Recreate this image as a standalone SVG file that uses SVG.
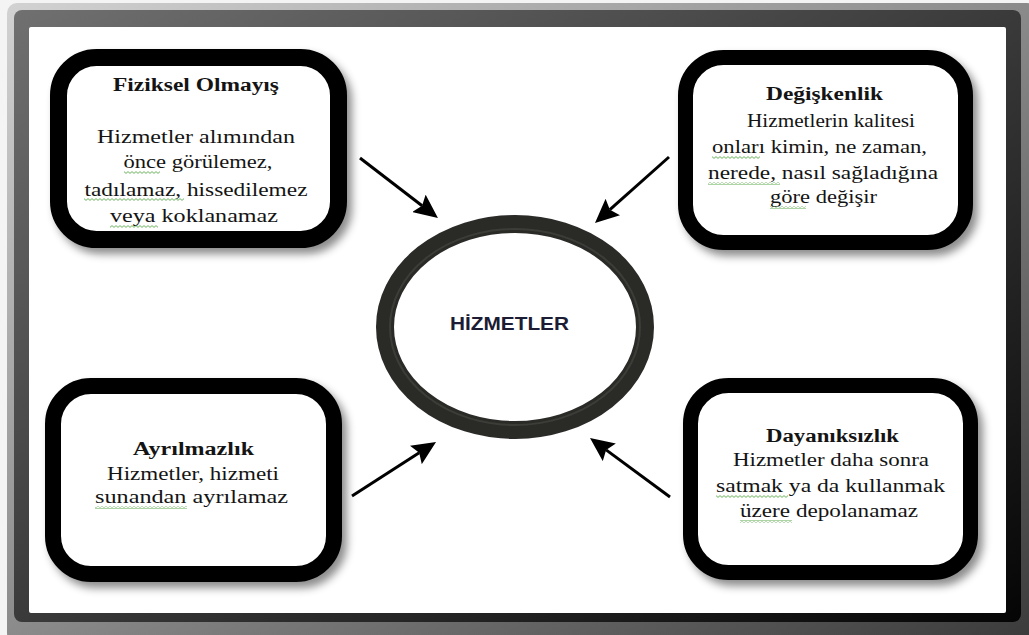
<svg xmlns="http://www.w3.org/2000/svg" width="1029" height="635" viewBox="0 0 1029 635">
  <defs>
    <linearGradient id="frameOuter" x1="0" y1="0" x2="1" y2="1">
      <stop offset="0" stop-color="#d2d2d2"/>
      <stop offset="0.5" stop-color="#8a8a8a"/>
      <stop offset="1" stop-color="#3a3a3a"/>
    </linearGradient>
    <linearGradient id="frameInner" x1="0" y1="0" x2="1" y2="1">
      <stop offset="0" stop-color="#707070"/>
      <stop offset="0.5" stop-color="#3a3a3a"/>
      <stop offset="1" stop-color="#050505"/>
    </linearGradient>
    <filter id="boxShadow" x="-10%" y="-10%" width="130%" height="130%">
      <feDropShadow dx="5" dy="6" stdDeviation="4" flood-color="#000" flood-opacity="0.45"/>
    </filter>
    <filter id="soft" x="-5%" y="-5%" width="110%" height="110%">
      <feGaussianBlur stdDeviation="0.7"/>
    </filter>
    <marker id="head" viewBox="0 0 24 22" refX="4" refY="11" markerWidth="24" markerHeight="22" markerUnits="userSpaceOnUse" orient="auto">
      <path d="M0,0 L24,11 L0,22 L4,11 z" fill="#000"/>
    </marker>
    <pattern id="squiggle" patternUnits="userSpaceOnUse" width="4" height="3">
      <path d="M0,0.6 L2,2.4 L4,0.6" fill="none" stroke="#5aaa4a" stroke-width="0.9"/>
    </pattern>
    <style>
      .box { fill: #ffffff; stroke: #000; filter: url(#boxShadow); }
      .title { font-family: "Liberation Serif", "Times New Roman", serif; font-size: 18px; font-weight: bold; fill: #141414; }
      .body { font-family: "Liberation Serif", "Times New Roman", serif; font-size: 18px; fill: #141414; }
      .conn { stroke: #000; stroke-width: 3; fill: none; marker-end: url(#head); }
      .spell { fill: url(#squiggle); }
      .center-label { font-family: "Liberation Sans", Arial, sans-serif; font-size: 19px; font-weight: bold; fill: #1c1c34; }
    </style>
  </defs>

  <!-- picture frame -->
  <rect x="0" y="0" width="1029" height="635" fill="#f4f4f4"/>
  <rect x="7" y="3" width="1030" height="640" rx="10" fill="url(#frameOuter)"/>
  <rect x="14" y="10" width="1007" height="612" rx="8" fill="url(#frameInner)"/>
  <rect x="29" y="27" width="977" height="586" rx="2" fill="#ffffff"/>

  <!-- connectors -->
  <g id="connectors">
    <line class="conn" x1="360" y1="158" x2="422.1" y2="205.8"/>
    <line class="conn" x1="669" y1="157" x2="609.9" y2="209.7"/>
    <line class="conn" x1="352" y1="496" x2="419.2" y2="452.8"/>
    <line class="conn" x1="670" y1="497" x2="606.1" y2="449.9"/>
  </g>

  <!-- central node: dark ring -->
  <g id="hizmetler">
    <g filter="url(#soft)">
      <ellipse cx="515" cy="327" rx="130" ry="103" fill="#ffffff" stroke="#2a2a28" stroke-width="18"/>
      <ellipse cx="515" cy="327" rx="125" ry="98" fill="none" stroke="#3c3c39" stroke-width="2"/>
    </g>
    <text class="center-label" x="509.5" y="330" text-anchor="middle" textLength="119" lengthAdjust="spacingAndGlyphs">HİZMETLER</text>
  </g>

  <!-- top-left node -->
  <g id="fiziksel-olmayis">
    <rect class="box" x="58.5" y="57.5" width="280" height="182" rx="38" stroke-width="17"/>
    <text class="title" x="196" y="91" text-anchor="middle" textLength="166" lengthAdjust="spacingAndGlyphs">Fiziksel Olmayış</text>
    <text class="body" x="196" y="143" text-anchor="middle" textLength="198" lengthAdjust="spacingAndGlyphs">Hizmetler alımından</text>
    <text class="body" x="198" y="168" text-anchor="middle" textLength="149" lengthAdjust="spacingAndGlyphs">önce görülemez,</text>
    <text class="body" x="196" y="196" text-anchor="middle" textLength="223" lengthAdjust="spacingAndGlyphs">tadılamaz, hissedilemez</text>
    <text class="body" x="194" y="222" text-anchor="middle" textLength="168" lengthAdjust="spacingAndGlyphs">veya koklanamaz</text>
    <rect class="spell" x="124" y="171" width="36" height="3"/>
    <rect class="spell" x="84" y="198" width="100" height="3"/>
    <rect class="spell" x="110" y="225" width="48" height="3"/>
  </g>

  <!-- top-right node -->
  <g id="degiskenlik">
    <rect class="box" x="685.5" y="57.5" width="280" height="185" rx="38" stroke-width="15"/>
    <text class="title" x="824.5" y="100" text-anchor="middle" textLength="117" lengthAdjust="spacingAndGlyphs">Değişkenlik</text>
    <text class="body" x="831" y="127" text-anchor="middle" textLength="168" lengthAdjust="spacingAndGlyphs">Hizmetlerin kalitesi</text>
    <text class="body" x="819.5" y="153" text-anchor="middle" textLength="215" lengthAdjust="spacingAndGlyphs">onları kimin, ne zaman,</text>
    <text class="body" x="823" y="179" text-anchor="middle" textLength="230" lengthAdjust="spacingAndGlyphs">nerede, nasıl sağladığına</text>
    <text class="body" x="823.5" y="203" text-anchor="middle" textLength="107" lengthAdjust="spacingAndGlyphs">göre değişir</text>
    <rect class="spell" x="712" y="156" width="48" height="3"/>
    <rect class="spell" x="708" y="182" width="72" height="3"/>
    <rect class="spell" x="770" y="206" width="36" height="3"/>
  </g>

  <!-- bottom-left node -->
  <g id="ayrilmazlik">
    <rect class="box" x="53" y="386" width="281" height="188" rx="38" stroke-width="16"/>
    <text class="title" x="193.5" y="455" text-anchor="middle" textLength="121" lengthAdjust="spacingAndGlyphs">Ayrılmazlık</text>
    <text class="body" x="193" y="480" text-anchor="middle" textLength="172" lengthAdjust="spacingAndGlyphs">Hizmetler, hizmeti</text>
    <text class="body" x="191.5" y="503" text-anchor="middle" textLength="193" lengthAdjust="spacingAndGlyphs">sunandan ayrılamaz</text>
    <rect class="spell" x="95" y="506" width="92" height="3"/>
  </g>

  <!-- bottom-right node -->
  <g id="dayaniksizlik">
    <rect class="box" x="690.5" y="385.5" width="280" height="187" rx="38" stroke-width="15"/>
    <text class="title" x="832.5" y="442" text-anchor="middle" textLength="133" lengthAdjust="spacingAndGlyphs">Dayanıksızlık</text>
    <text class="body" x="831" y="466" text-anchor="middle" textLength="196" lengthAdjust="spacingAndGlyphs">Hizmetler daha sonra</text>
    <text class="body" x="830.5" y="492" text-anchor="middle" textLength="229" lengthAdjust="spacingAndGlyphs">satmak ya da kullanmak</text>
    <text class="body" x="829" y="517" text-anchor="middle" textLength="178" lengthAdjust="spacingAndGlyphs">üzere depolanamaz</text>
    <rect class="spell" x="716" y="495" width="72" height="3"/>
    <rect class="spell" x="740" y="520" width="52" height="3"/>
  </g>
</svg>
